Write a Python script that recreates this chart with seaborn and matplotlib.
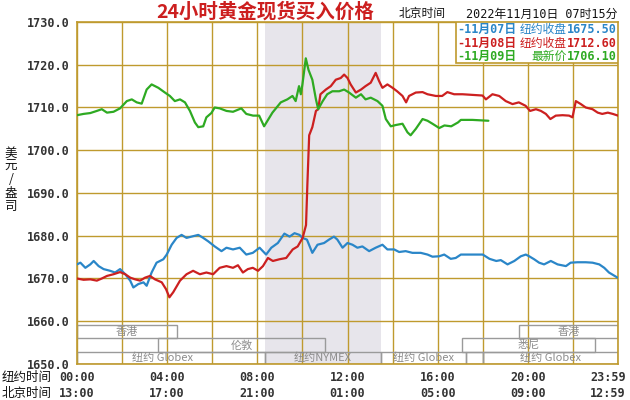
import numpy as np
import pandas as pd
import matplotlib
matplotlib.use("Agg")
import matplotlib.pyplot as plt
import seaborn as sns
from matplotlib.patches import Rectangle

# --- data (NY time in hours, price USD/oz) ---
blue_t = [0, 0.15, 0.37, 0.59, 0.74, 0.96, 1.18, 1.47, 1.69, 1.91, 2.14, 2.36, 2.5, 2.72, 2.95, 3.09,
          3.31, 3.53, 3.83, 3.98, 4.2, 4.42, 4.64, 4.86, 5.08, 5.38, 5.6, 5.82, 6.11, 6.41, 6.63, 6.92,
          7.22, 7.51, 7.8, 8.1, 8.39, 8.62, 8.91, 9.2, 9.43, 9.65, 9.87, 10.0, 10.2, 10.44, 10.67, 10.96,
          11.18, 11.4, 11.55, 11.78, 12.0, 12.22, 12.44, 12.66, 12.96, 13.25, 13.55, 13.77, 14.07, 14.29,
          14.58, 14.88, 15.25, 15.55, 15.77, 16.07, 16.29, 16.58, 16.8, 17.03, 18.0, 18.3, 18.6, 18.8,
          19.1, 19.4, 19.69, 19.91, 20.06, 20.28, 20.5, 20.72, 21.02, 21.32, 21.69, 21.9, 22.2, 22.57,
          22.87, 23.17, 23.39, 23.6, 23.98]
blue_v = [1673.3, 1673.7, 1672.5, 1673.3, 1674.1, 1672.9, 1672.2, 1671.8, 1671.4, 1672.2, 1671.0, 1669.5,
          1667.9, 1668.7, 1669.1, 1668.3, 1671.4, 1673.7, 1674.5, 1675.6, 1677.9, 1679.5, 1680.2, 1679.5,
          1679.8, 1680.2, 1679.5, 1678.7, 1677.5, 1676.4, 1677.2, 1676.8, 1677.2, 1675.6, 1676.0, 1677.2,
          1675.6, 1677.2, 1678.3, 1680.5, 1679.8, 1680.6, 1680.2, 1679.5, 1679.1, 1676.0, 1677.9, 1678.3,
          1679.1, 1679.8, 1679.1, 1677.2, 1678.3, 1677.9, 1677.2, 1677.5, 1676.4, 1677.2, 1677.9, 1676.8,
          1676.8, 1676.2, 1676.4, 1676.0, 1676.0, 1675.6, 1675.1, 1675.2, 1675.6, 1674.6, 1674.8, 1675.6,
          1675.6, 1674.6, 1674.1, 1674.3, 1673.3, 1674.1, 1675.2, 1675.6, 1675.2, 1674.5, 1673.7, 1673.3,
          1674.1, 1673.3, 1672.9, 1673.7, 1673.8, 1673.8, 1673.7, 1673.3, 1672.5, 1671.4, 1670.2]

red_t = [0, 0.29, 0.59, 0.88, 1.1, 1.33, 1.62, 1.91, 2.14, 2.36, 2.58, 2.8, 3.02, 3.24, 3.46, 3.76, 3.95,
         4.1, 4.27, 4.57, 4.86, 5.15, 5.45, 5.74, 6.04, 6.33, 6.63, 6.92, 7.14, 7.36, 7.58, 7.8, 8.03, 8.25,
         8.47, 8.69, 8.98, 9.28, 9.57, 9.79, 10.01, 10.16, 10.22, 10.3, 10.44, 10.6, 10.7, 10.8, 11.04,
         11.26, 11.48, 11.7, 11.85, 12.0, 12.14, 12.37, 12.6, 12.8, 13.03, 13.25, 13.4, 13.55, 13.77, 14.0,
         14.2, 14.44, 14.6, 14.73, 15.03, 15.33, 15.55, 15.92, 16.2, 16.43, 16.73, 17.1, 17.99, 18.14,
         18.43, 18.73, 19.02, 19.32, 19.6, 19.9, 20.1, 20.36, 20.58, 20.8, 21.0, 21.24, 21.54, 21.83,
         21.98, 22.13, 22.35, 22.57, 22.87, 23.1, 23.3, 23.55, 23.77, 24.0]
red_v = [1670.0, 1669.7, 1669.8, 1669.5, 1670.0, 1670.6, 1671.0, 1671.5, 1671.0, 1670.2, 1669.8, 1669.5,
         1670.2, 1670.6, 1669.8, 1669.1, 1667.5, 1665.6, 1666.8, 1669.5, 1671.0, 1671.8, 1671.0, 1671.4,
         1671.0, 1672.5, 1672.9, 1672.5, 1673.1, 1671.4, 1672.2, 1672.5, 1671.8, 1672.9, 1674.8, 1674.1,
         1674.5, 1674.8, 1676.8, 1677.5, 1679.5, 1682.5, 1692.0, 1703.5, 1705.4, 1709.2, 1709.6, 1713.1,
         1714.2, 1715.0, 1716.5, 1716.9, 1717.7, 1716.9, 1715.4, 1713.5, 1714.2, 1715.0, 1715.8, 1718.1,
         1716.2, 1714.6, 1715.4, 1714.6, 1713.8, 1712.7, 1711.2, 1712.7, 1713.5, 1713.6, 1713.1, 1712.7,
         1712.7, 1713.6, 1713.1, 1713.1, 1712.8, 1711.9, 1713.1, 1712.7, 1711.5, 1710.8, 1711.2, 1710.4,
         1709.2, 1709.6, 1709.2, 1708.5, 1707.3, 1708.1, 1708.2, 1708.1, 1707.7, 1711.5, 1710.8, 1710.0,
         1709.6, 1708.8, 1708.5, 1708.8, 1708.5, 1708.1]

green_t = [0, 0.29, 0.59, 0.88, 1.1, 1.33, 1.62, 1.91, 2.21, 2.43, 2.65, 2.87, 3.09, 3.31, 3.61, 3.9, 4.12,
           4.34, 4.57, 4.79, 5.01, 5.23, 5.38, 5.6, 5.74, 5.96, 6.11, 6.33, 6.63, 6.92, 7.29, 7.51, 7.81,
           8.08, 8.3, 8.67, 9.04, 9.33, 9.56, 9.7, 9.85, 9.93, 10.0, 10.15, 10.27, 10.44, 10.6, 10.7, 10.9,
           11.1, 11.33, 11.63, 11.85, 12.07, 12.37, 12.6, 12.8, 13.03, 13.33, 13.55, 13.7, 13.92, 14.14,
           14.44, 14.66, 14.8, 15.03, 15.33, 15.55, 15.77, 16.07, 16.3, 16.6, 16.9, 17.03, 17.54, 18.25]
green_v = [1708.2, 1708.5, 1708.7, 1709.2, 1709.6, 1708.8, 1709.0, 1709.8, 1711.5, 1711.9, 1711.2, 1710.9,
           1714.2, 1715.4, 1714.6, 1713.5, 1712.7, 1711.5, 1711.9, 1711.2, 1709.2, 1706.5, 1705.4, 1705.6,
           1707.7, 1708.7, 1710.0, 1709.8, 1709.2, 1709.0, 1709.8, 1708.5, 1708.1, 1708.1, 1705.6, 1708.8,
           1711.2, 1711.9, 1712.7, 1711.5, 1715.0, 1713.1, 1715.4, 1721.5, 1718.8, 1716.5, 1711.9, 1709.6,
           1711.5, 1713.1, 1713.8, 1713.8, 1714.2, 1713.5, 1712.3, 1713.1, 1711.9, 1712.3, 1711.5, 1710.4,
           1707.3, 1705.6, 1705.9, 1706.2, 1704.2, 1703.5, 1705.0, 1707.3, 1706.9, 1706.2, 1705.2, 1705.8,
           1705.6, 1706.5, 1707.1, 1707.1, 1706.9]

ny_labels = ["00:00", "04:00", "08:00", "12:00", "16:00", "20:00", "23:59"]
bj_labels = ["13:00", "17:00", "21:00", "01:00", "05:00", "09:00", "12:59"]
label_hours = [0, 4, 8, 12, 16, 20, 23.55]
y_ticks = [1650, 1660, 1670, 1680, 1690, 1700, 1710, 1720, 1730]

legend_dates = ["-11月07日", "-11月08日", "-11月09日"]
legend_kinds = ["纽约收盘", "纽约收盘", "最新价"]
legend_prices = ["1675.50", "1712.60", "1706.10"]

# trading sessions: (name, start, end, row)
sessions = [("香港", 0, 4.45, 2), ("伦敦", 3.6, 11.0, 1), ("纽约 Globex", 0, 8.33, 0),
            ("纽约NYMEX", 8.33, 13.5, 0), ("纽约 Globex", 13.5, 17.25, 0), ("", 17.25, 18.0, 0),
            ("纽约 Globex", 18.0, 24, 0), ("悉尼", 17.1, 23.0, 1), ("香港", 19.6, 24, 2)]
label_pos = {0: 1651.4, 1: 1654.4, 2: 1657.6}
row_span = {0: (1650, 1652.9), 1: (1652.9, 1656.1), 2: (1656.1, 1659.1)}

# --- style ---
sns.set_style("white")
plt.rcParams['font.family'] = ['DejaVu Sans', 'Noto Sans CJK SC']
GOLD = "#bf9a2e"
BLUE, RED, GREEN = "#2a86c8", "#cc2020", "#2eaa22"
MONO = ['DejaVu Sans Mono', 'Noto Sans CJK SC']
CJK = ['Noto Sans CJK SC', 'DejaVu Sans']

fig = plt.figure(figsize=(6.3, 4.0), dpi=100)
ax = fig.add_axes([77 / 630, 36 / 400, 541 / 630, 342 / 400])

ax.axvspan(8.33, 13.5, color="#e7e5eb", zorder=0, lw=0)

for t, v, c in [(blue_t, blue_v, BLUE), (red_t, red_v, RED), (green_t, green_v, GREEN)]:
    df = pd.DataFrame({"t": t, "v": v})
    sns.lineplot(data=df, x="t", y="v", ax=ax, color=c, linewidth=1.6, estimator=None, sort=False, zorder=3)

ax.set_xlim(0, 24)
ax.set_ylim(1650, 1730)
ax.set_xticks(range(0, 25, 2))
ax.set_xticklabels([])
ax.set_yticks(y_ticks)
ax.set_yticklabels([f"{y:.1f}" for y in y_ticks], family=MONO, fontweight="bold", fontsize=8.5, color="#333333")
ax.tick_params(length=0, pad=5)
ax.set_xlabel("")
ax.set_ylabel("")
ax.grid(True, color=GOLD, linewidth=1.0, zorder=1)
ax.set_axisbelow(True)
for s in ax.spines.values():
    s.set_color(GOLD)
    s.set_linewidth(1.2)

# session boxes
for name, a, b, row in sessions:
    y0, y1 = row_span[row]
    ax.add_patch(Rectangle((a, y0), b - a, y1 - y0, fill=False, edgecolor="#9a9a9a", lw=1.0, zorder=2))
    if name:
        ax.text((a + b) / 2 if name != "纽约 Globex" or a > 0 else 3.8, label_pos[row], name,
                ha="center", va="center", fontsize=8, color="#8c8c8c", family=CJK, zorder=2)

# x labels (two rows)
tr = ax.get_xaxis_transform()
for h, ny, bj in zip(label_hours, ny_labels, bj_labels):
    ax.text(h, -0.04, ny, transform=tr, ha="center", va="center", family=MONO, fontweight="bold",
            fontsize=8.5, color="#333333")
    ax.text(h, -0.087, bj, transform=tr, ha="center", va="center", family=MONO, fontweight="bold",
            fontsize=8.5, color="#333333")
fig.text(2 / 630, 1 - 377 / 400, "纽约时间", ha="left", va="center", family=CJK, fontsize=9, color="#111111")
fig.text(2 / 630, 1 - 393 / 400, "北京时间", ha="left", va="center", family=CJK, fontsize=9, color="#111111")

# y label stacked vertically
fig.text(11 / 630, 1 - 180 / 400, "美\n元\n/\n盎\n司", ha="center", va="center", family=CJK, fontsize=9,
         linespacing=1.05, color="#111111")

# header
fig.text(265 / 630, 1 - 12 / 400, "24小时黄金现货买入价格", ha="center", va="center", family=CJK,
         fontsize=14, fontweight="bold", color="#cc1f1f")
fig.text(422 / 630, 1 - 14 / 400, "北京时间", ha="center", va="center", family=CJK, fontsize=8.5, color="#111111")
fig.text(617 / 630, 1 - 14 / 400, "2022年11月10日 07时15分", ha="right", va="center", family=MONO,
         fontsize=8.5, color="#111111")

# legend box
ax.add_patch(Rectangle((0.70, 0.880), 0.30, 0.12, transform=ax.transAxes, facecolor="white",
                       edgecolor=GOLD, lw=1.2, zorder=5))
for i, (d, k, p, c) in enumerate(zip(legend_dates, legend_kinds, legend_prices, [BLUE, RED, GREEN])):
    yy = 0.977 - i * 0.039
    ax.text(0.703, yy, d, transform=ax.transAxes, ha="left", va="center", family=MONO, fontweight="bold",
            fontsize=8.5, color=c, zorder=6)
    ax.text(0.905, yy, k, transform=ax.transAxes, ha="right", va="center", family=CJK,
            fontsize=8.5, color=c, zorder=6)
    ax.text(0.998, yy, p, transform=ax.transAxes, ha="right", va="center", family=MONO, fontweight="bold",
            fontsize=8.5, color=c, zorder=6)

fig.savefig("out.png", dpi=100)
